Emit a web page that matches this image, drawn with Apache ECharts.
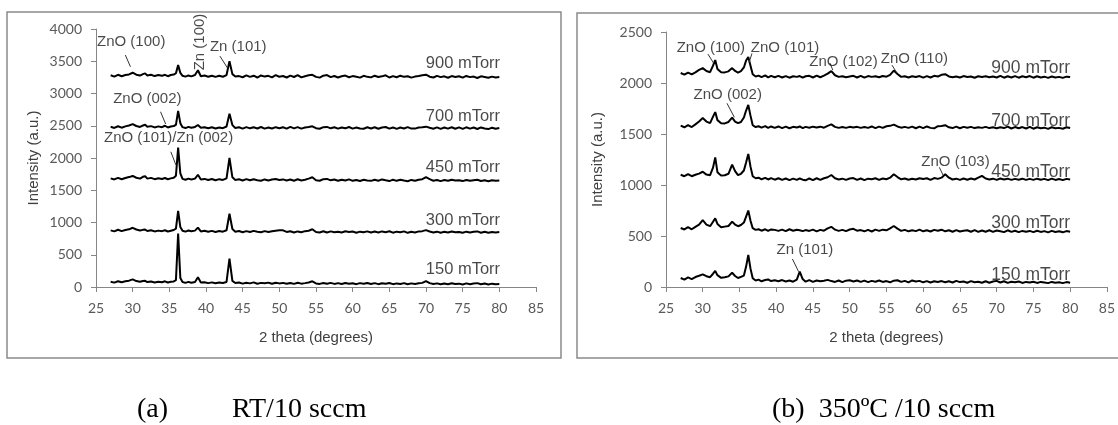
<!DOCTYPE html>
<html>
<head>
<meta charset="utf-8">
<script src="https://cdn.jsdelivr.net/npm/echarts@6/dist/echarts.min.js"></script>
<style>
html,body{margin:0;padding:0;background:#fff;}
#c{width:1118px;height:425px;}
</style>
</head>
<body>
<div id="c"></div>
<script>
// 2-theta sample positions (degrees)
const X = [
  27,27.5,28,28.5,29,29.5,30,30.5,31,
  31.4,31.7,32,32.5,33,33.5,34,34.4,34.8,35.2,35.6,
  35.9,36.2,36.5,36.8,37.2,37.6,38,38.5,38.9,39.3,
  39.8,40.3,40.8,41.3,41.8,42.3,42.8,43.2,43.6,44,
  44.5,45,45.5,46,46.5,47,47.5,48,48.5,49,49.5,50,
  50.5,51,51.5,52,52.5,53,53.5,54,54.5,55,55.5,56,
  56.5,57,57.5,58,58.5,59,59.5,60,60.5,61,61.5,62,
  62.5,63,63.5,64,64.5,65,65.5,66,66.5,67,67.5,68,
  68.5,69,69.5,70,70.5,71,71.5,72,72.5,73,73.5,74,
  74.5,75,75.5,76,76.5,77,77.5,78,78.5,79,79.5,80
];

// (a) RT/10 sccm
const A150 = [
  82,68,90,74,88,98,118,92,80,
  92,96,76,86,70,82,74,88,70,80,86,
  105,830,140,78,64,80,66,78,150,70,
  74,60,72,58,70,62,78,440,95,62,
  70,52,66,56,72,50,64,58,68,50,66,56,
  64,50,62,48,66,52,60,70,88,56,48,62,
  50,64,48,60,46,62,52,58,44,60,50,62,
  46,60,44,58,50,62,44,56,48,60,42,56,
  46,58,64,92,60,46,56,42,54,44,58,46,
  52,40,56,44,54,60,42,54,40,52,44,46
];
const A300 = [
  878,862,888,866,884,894,918,892,876,
  886,890,868,880,862,874,866,880,860,872,884,
  905,1180,930,872,858,876,864,874,920,862,
  872,856,870,852,868,858,880,1135,900,858,
  868,850,866,852,870,856,848,866,852,864,872,880,
  878,854,864,846,862,850,866,872,895,852,846,864,
  846,862,848,858,844,864,852,860,842,858,848,862,
  844,860,846,862,850,864,842,858,848,862,840,856,
  846,862,866,882,860,844,858,842,856,846,860,848,
  854,840,858,846,856,862,842,856,840,852,846,853
];
const A450 = [
  1684,1668,1692,1670,1690,1704,1722,1694,1680,
  1708,1718,1680,1692,1672,1686,1674,1690,1670,1684,1694,
  1725,2160,1760,1676,1662,1680,1666,1680,1740,1668,
  1676,1660,1674,1656,1672,1660,1684,2000,1700,1660,
  1670,1652,1672,1654,1670,1656,1648,1668,1652,1666,1674,1658,
  1668,1650,1666,1648,1670,1652,1664,1680,1702,1656,1648,1672,
  1676,1654,1666,1648,1664,1650,1668,1646,1660,1644,1662,1652,
  1646,1664,1648,1668,1654,1642,1664,1646,1662,1650,1640,1660,
  1648,1664,1672,1702,1672,1648,1660,1642,1658,1646,1662,1650,
  1656,1642,1660,1646,1656,1662,1644,1656,1640,1654,1646,1650
];
const A700 = [
  2484,2466,2492,2470,2490,2504,2526,2496,2482,
  2504,2516,2484,2494,2474,2490,2478,2500,2474,2488,2496,
  2514,2730,2540,2478,2464,2482,2468,2482,2512,2470,
  2478,2462,2476,2458,2474,2462,2488,2685,2510,2464,
  2476,2456,2478,2460,2476,2458,2480,2456,2474,2458,2478,2462,
  2476,2456,2482,2460,2478,2456,2474,2482,2492,2462,2454,2478,
  2482,2460,2476,2456,2472,2460,2480,2456,2474,2458,2454,2476,
  2458,2476,2454,2472,2480,2456,2474,2452,2472,2458,2478,2456,
  2456,2474,2478,2486,2468,2454,2474,2452,2472,2456,2476,2454,
  2474,2452,2476,2456,2472,2450,2474,2458,2448,2470,2454,2465
];
const A900 = [
  3282,3262,3290,3268,3286,3296,3322,3292,3278,
  3300,3312,3280,3290,3270,3286,3274,3290,3268,3286,3294,
  3314,3440,3320,3274,3262,3280,3266,3286,3360,3268,
  3278,3260,3276,3258,3274,3260,3286,3500,3300,3264,
  3270,3252,3282,3258,3276,3248,3280,3262,3274,3250,3284,3260,
  3272,3248,3278,3256,3284,3250,3268,3282,3290,3258,3246,3276,
  3286,3254,3272,3248,3268,3278,3252,3270,3260,3246,3274,3258,
  3250,3276,3256,3266,3282,3248,3270,3252,3276,3258,3268,3246,
  3262,3272,3284,3292,3260,3248,3274,3254,3266,3244,3270,3256,
  3268,3246,3272,3254,3262,3240,3266,3256,3244,3262,3248,3256
];

// (b) 350ºC/10 sccm
const B150 = [
  88,72,94,78,98,110,124,106,96,
  130,157,116,90,96,104,140,108,88,100,112,
  200,314,180,86,64,72,56,68,74,58,
  66,56,68,54,64,52,72,150,78,52,
  68,50,64,56,62,70,58,50,64,48,62,66,
  54,64,50,62,48,60,52,64,50,58,46,62,
  66,50,60,46,64,54,60,46,58,44,56,50,
  58,46,56,44,60,48,54,42,58,46,52,42,
  56,42,54,60,44,56,40,52,46,54,40,50,
  44,52,40,50,44,38,50,42,46,38,48,42
];
const B300 = [
  578,564,586,566,590,612,655,612,596,
  640,673,618,586,592,598,640,612,596,608,632,
  690,750,650,576,560,566,552,566,550,564,
  560,550,562,548,566,552,562,556,548,558,
  550,562,546,560,552,574,590,562,550,560,548,564,
  570,552,558,546,560,544,562,550,562,556,574,598,
  572,550,560,546,556,548,562,546,556,544,560,552,
  562,546,556,542,558,544,552,556,542,558,540,554,
  542,556,540,554,546,538,556,540,552,538,550,542,
  550,538,552,540,548,536,550,540,546,536,548,542
];
const B450 = [
  1100,1086,1106,1086,1100,1112,1130,1102,1096,
  1170,1270,1126,1092,1096,1110,1200,1136,1096,1110,1142,
  1220,1305,1180,1086,1066,1072,1056,1070,1054,1068,
  1052,1066,1050,1064,1048,1062,1050,1064,1052,1046,
  1064,1048,1066,1050,1066,1076,1098,1066,1054,1062,1050,1064,
  1068,1050,1064,1048,1062,1056,1066,1050,1064,1056,1072,1105,
  1078,1056,1064,1052,1062,1054,1066,1058,1066,1050,1068,1060,
  1072,1105,1072,1054,1062,1050,1064,1052,1064,1054,1072,1090,
  1064,1054,1062,1050,1064,1054,1062,1050,1060,1052,1062,1050,
  1060,1050,1062,1052,1060,1048,1062,1050,1058,1048,1060,1055
];
const B700 = [
  1582,1566,1586,1568,1594,1622,1656,1622,1606,
  1670,1715,1636,1606,1604,1618,1660,1622,1606,1618,1662,
  1730,1785,1680,1586,1568,1576,1562,1578,1560,1574,
  1560,1574,1558,1572,1556,1570,1564,1574,1558,1570,
  1562,1572,1564,1572,1562,1580,1594,1570,1560,1568,1560,1570,
  1564,1570,1560,1568,1560,1574,1558,1572,1560,1576,1580,1592,
  1574,1562,1570,1560,1572,1556,1572,1558,1574,1560,1556,1576,
  1578,1586,1566,1558,1572,1556,1570,1562,1570,1558,1566,1560,
  1570,1558,1566,1556,1566,1558,1572,1554,1568,1556,1568,1554,
  1570,1552,1566,1556,1562,1550,1566,1556,1560,1552,1566,1558
];
const B900 = [
  2098,2082,2102,2084,2104,2128,2146,2118,2106,
  2170,2225,2138,2106,2104,2114,2146,2118,2102,2116,2152,
  2220,2254,2170,2086,2064,2072,2058,2074,2056,2070,
  2056,2070,2054,2068,2052,2066,2060,2068,2052,2066,
  2070,2054,2072,2056,2072,2092,2117,2076,2060,2066,2056,2064,
  2070,2054,2070,2052,2068,2060,2066,2056,2068,2062,2080,2122,
  2088,2060,2066,2054,2066,2058,2068,2052,2068,2054,2070,2064,
  2080,2086,2064,2056,2064,2054,2068,2058,2064,2052,2066,2058,
  2066,2056,2064,2054,2070,2052,2066,2054,2068,2052,2066,2056,
  2068,2052,2066,2054,2062,2050,2064,2054,2060,2050,2062,2058
];

// series labels: [text, x, y]
const A_LABELS = [["900 mTorr",80.1,3472],["700 mTorr",80.1,2650],["450 mTorr",80.1,1860],["300 mTorr",80.1,1038],["150 mTorr",80.1,279]];
const B_LABELS = [["900 mTorr",80.0,2147],["700 mTorr",80.0,1630],["450 mTorr",80.0,1124],["300 mTorr",80.0,630],["150 mTorr",80.0,118]];

// peak annotations: [text, x, y, rotate]
const A_NOTES = [["ZnO (100)",29.8,3798,0],["Zn (100)",39.2,3798,90],["Zn (101)",44.4,3720,0],["ZnO (002)",32.0,2914,0],["ZnO (101)/Zn (002)",34.9,2309,0]];
const B_NOTES = [["ZnO (100)",31.1,2343,0],["ZnO (101)",41.2,2343,0],["ZnO (102)",49.15,2209,0],["ZnO (110)",58.8,2235,0],["ZnO (002)",33.4,1882,0],["ZnO (103)",64.4,1228,0],["Zn (101)",43.9,363,0]];

// leader lines: [x1,y1,x2,y2]
const A_LEADERS = [[29.0,3596,29.7,3414],[41.9,3580,42.96,3390],[33.8,2717,34.5,2527],[35.2,2097,35.9,1891]];
const B_LEADERS = [[30.7,2284,31.5,2193],[36.7,2290,36.3,2200],[47.3,2196,47.7,2127],[55.75,2176,56.4,2101],[33.3,1801,34.3,1664],[62.2,1173,62.7,1098],[42.2,275,43.05,150]];

const pairs = ys => X.map((x,i)=>[x, ys[i]]);
const AX = '#868686';
const LBL = '#595959';

function xAxis(gi){
  return {type:'value', gridIndex:gi, min:25, max:85, interval:5,
    name:'2 theta (degrees)', nameLocation:'middle', nameGap:43,
    nameTextStyle:{fontFamily:'Liberation Sans', fontSize:15, color:'#404040'},
    axisLine:{lineStyle:{color:AX, width:1}},
    axisTick:{show:true, length:5, lineStyle:{color:AX}},
    axisLabel:{fontFamily:'Lato', fontSize:14, color:LBL, margin:14, formatter:v=>String(v)},
    splitLine:{show:false}};
}
function yAxis(gi, max, gap){
  return {type:'value', gridIndex:gi, min:0, max:max, interval:500,
    name:'Intensity (a.u.)', nameLocation:'middle', nameGap:gap, nameRotate:90,
    nameTextStyle:{fontFamily:'Liberation Sans', fontSize:15, color:'#404040'},
    axisLine:{show:true, lineStyle:{color:AX, width:1}},
    axisTick:{show:true, length:5, lineStyle:{color:AX}},
    axisLabel:{fontFamily:'Lato', fontSize:14, color:LBL, margin:14, formatter:v=>String(v)},
    splitLine:{show:false}};
}
function lineSeries(gi, ys){
  return {type:'line', xAxisIndex:gi, yAxisIndex:gi, data:pairs(ys), showSymbol:false,
    silent:true, animation:false, lineStyle:{color:'#000', width:2}, z:3};
}
function textSeries(gi, labels, notes, leaders, mSize){
  const data = [];
  labels.forEach(l=>data.push({value:[l[1],l[2]], label:{show:true, formatter:l[0], align:'right', verticalAlign:'middle',
    fontFamily:'Liberation Sans', fontSize:mSize, color:'#1a1a1a', position:'inside'}}));
  notes.forEach(n=>data.push({value:[n[1],n[2]], label:{show:true, formatter:n[0], align:'center', verticalAlign:'middle',
    rotate:n[3], fontFamily:'Liberation Sans', fontSize:15, color:'#1a1a1a', position:'inside'}}));
  return {type:'scatter', xAxisIndex:gi, yAxisIndex:gi, symbolSize:0, data:data, silent:true, animation:false, z:5,
    markLine:{silent:true, animation:false, symbol:['none','none'], label:{show:false},
      lineStyle:{color:'#333', width:1, type:'solid'},
      data: leaders.map(d=>[{coord:[d[0],d[1]]},{coord:[d[2],d[3]]}])}};
}

const chart = echarts.init(document.getElementById('c'), null, {renderer:'canvas'});
chart.setOption({
  animation:false,
  backgroundColor:'#fff',
  grid:[{left:96, top:29, width:440, height:258},{left:666, top:32, width:441, height:255}],
  xAxis:[xAxis(0), xAxis(1)],
  yAxis:[yAxis(0,4000,55), yAxis(1,2500,61)],
  series:[
    lineSeries(0,A150),lineSeries(0,A300),lineSeries(0,A450),lineSeries(0,A700),lineSeries(0,A900),
    lineSeries(1,B150),lineSeries(1,B300),lineSeries(1,B450),lineSeries(1,B700),lineSeries(1,B900),
    textSeries(0,A_LABELS,A_NOTES,A_LEADERS,16.5),
    textSeries(1,B_LABELS,B_NOTES,B_LEADERS,17.5)
  ],
  graphic:[
    {type:'rect', shape:{x:7,y:12,width:554,height:346}, style:{fill:'none', stroke:'#8a8a8a', lineWidth:1.5}, silent:true},
    {type:'rect', shape:{x:577,y:13,width:560,height:345}, style:{fill:'none', stroke:'#8a8a8a', lineWidth:1.5}, silent:true},
    {type:'text', left:137, top:396, style:{text:'(a)', font:'28px "Liberation Serif"', fill:'#000'}},
    {type:'text', left:232, top:396, style:{text:'RT/10 sccm', font:'28px "Liberation Serif"', fill:'#000'}},
    {type:'text', left:772, top:396, style:{text:'(b)  350ºC /10 sccm', font:'28px "Liberation Serif"', fill:'#000'}}
  ]
});
</script>
</body>
</html>
